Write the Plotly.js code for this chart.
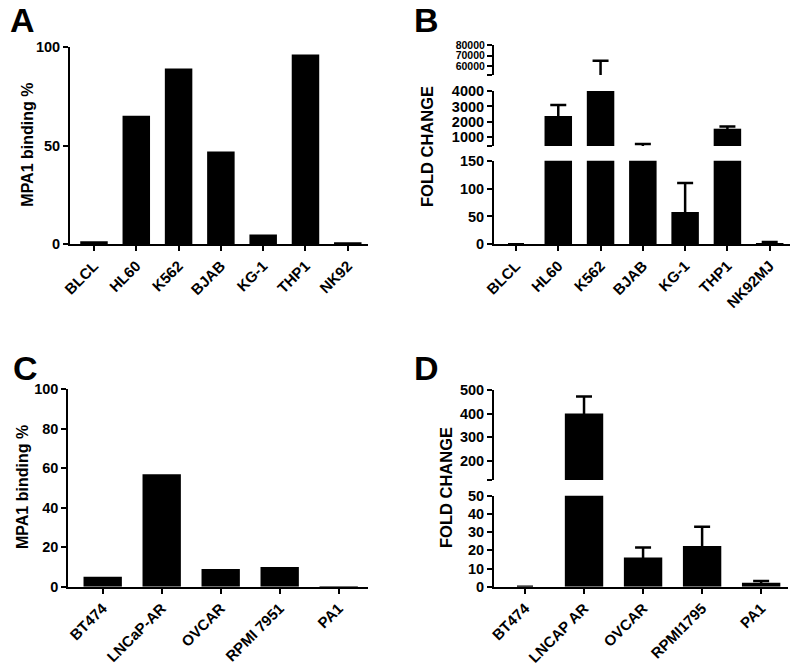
<!DOCTYPE html>
<html>
<head>
<meta charset="utf-8">
<script src="https://cdn.plot.ly/plotly-3.0.1.min.js"></script>
<style>html,body{margin:0;padding:0;background:#fff}#chart{width:800px;height:666px}</style>
</head>
<body>
<div id="chart"></div>
<script>
// ---- Data ----
const catsA = ['BLCL', 'HL60', 'K562', 'BJAB', 'KG-1', 'THP1', 'NK92'];
const bindingA = [1.5, 65, 89, 47, 5, 96, 1];

const catsB = ['BLCL', 'HL60', 'K562', 'BJAB', 'KG-1', 'THP1', 'NK92MJ'];
const foldB = [0, 2380, 35000, 400, 58, 1560, 2.5];
const foldBUpper = [0, 3100, 65000, 570, 110, 1710, 4];

const catsC = ['BT474', 'LNCaP-AR', 'OVCAR', 'RPMI 7951', 'PA1'];
const bindingC = [5, 57, 9, 10, 0.3];

const catsD = ['BT474', 'LNCAP AR', 'OVCAR', 'RPMI1795', 'PA1'];
const foldD = [0, 400, 16, 22.3, 2.2];
const foldDUpper = [0, 472, 21.6, 33, 3.2];

const ticksA = [0, 50, 100];
const ticksB1 = [0, 50, 100, 150];
const ticksB2 = [1000, 2000, 3000, 4000];
const ticksB3 = [60000, 70000, 80000];
const ticksC = [0, 20, 40, 60, 80, 100];
const ticksD1 = [0, 10, 20, 30, 40, 50];
const ticksD2 = [200, 300, 400, 500];

// ---- helpers ----
const W = 800, H = 666;
const px = v => v / W;
const py = v => 1 - v / H;
const FONT = 'Arial, "Liberation Sans", Helvetica, sans-serif';
const BAR_W = 0.65;

function diff(up, m) { return up.map((u, i) => (u - m[i] > 0 ? u - m[i] : null)); }

function barTrace(x, y, xa, ya, upper) {
  const t = { type: 'bar', x: x, y: y, xaxis: xa, yaxis: ya, width: BAR_W,
    marker: { color: '#000', line: { width: 0 } }, hoverinfo: 'skip', showlegend: false };
  if (upper) {
    // symmetric SD: the lower half falls inside the black bar and is hidden
    t.error_y = { type: 'data', symmetric: true, array: diff(upper, y),
      color: '#000', thickness: 2.5, width: 8, visible: true };
  }
  return t;
}

const data = [
  barTrace(catsA, bindingA, 'x', 'y'),
  barTrace(catsB, foldB, 'x2', 'y2', foldBUpper),
  barTrace(catsB, foldB, 'x2', 'y3', foldBUpper),
  barTrace(catsB, foldB, 'x2', 'y4', foldBUpper),
  barTrace(catsC, bindingC, 'x3', 'y5'),
  barTrace(catsD, foldD, 'x4', 'y6', foldDUpper),
  barTrace(catsD, foldD, 'x4', 'y7', foldDUpper)
];

function tf(size) { return { family: FONT, size: size, color: '#000', weight: 'bold' }; }
function xAx(d0, d1, anchor, range) {
  return { domain: [px(d0), px(d1)], anchor: anchor, type: 'category', range: range,
    showline: true, linewidth: 2, linecolor: '#000', ticks: 'outside', ticklen: 5, tickwidth: 2,
    tickcolor: '#000', showgrid: false, zeroline: false, tickangle: -45, tickfont: tf(15),
    fixedrange: true };
}
function yAx(top, bottom, anchor, range, vals, blankBottom, fsize) {
  const tv = blankBottom ? [range[0]].concat(vals) : vals;
  const tt = tv.map((v, i) => (blankBottom && i === 0) ? '' : String(v));
  return { domain: [py(bottom), py(top)], anchor: anchor, range: range,
    tickmode: 'array', tickvals: tv, ticktext: tt,
    showline: true, linewidth: 2, linecolor: '#000', ticks: 'outside', ticklen: 5, tickwidth: 2,
    tickcolor: '#000', showgrid: false, zeroline: false, tickfont: tf(fsize || 14.5), fixedrange: true };
}

function ann(text, x, y, size, angle) {
  return { text: text, x: px(x), y: py(y), xref: 'paper', yref: 'paper', showarrow: false,
    xanchor: 'center', yanchor: 'middle', textangle: angle || 0,
    font: { family: FONT, size: size, color: '#000', weight: 'bold' } };
}

const layout = {
  width: W, height: H, margin: { l: 0, r: 0, t: 0, b: 0 },
  paper_bgcolor: '#fff', plot_bgcolor: 'rgba(0,0,0,0)', showlegend: false, hovermode: false,
  xaxis: xAx(70, 368, 'y', [-0.567, 6.478]),
  yaxis: yAx(46.7, 244.3, 'x', [0, 100], ticksA),
  xaxis2: xAx(494, 790, 'y2', [-0.52, 6.48]),
  yaxis2: yAx(160.7, 244.3, 'x2', [0, 150], ticksB1),
  yaxis3: yAx(91, 146, 'x2', [440, 4000], ticksB2, true),
  yaxis4: yAx(45, 75, 'x2', [51500, 80000], ticksB3, true, 10.5),
  xaxis3: xAx(68.3, 368.3, 'y5', [-0.583, 4.502]),
  yaxis5: yAx(389.3, 586.7, 'x3', [0, 100], ticksC),
  xaxis4: xAx(494, 788.3, 'y6', [-0.525, 4.46]),
  yaxis6: yAx(495.7, 586.7, 'x4', [0, 50], ticksD1),
  yaxis7: yAx(390, 480, 'x4', [118, 500], ticksD2, true),
  annotations: [
    ann('A', 22.5, 19.5, 34),
    ann('B', 426.7, 19.5, 34),
    ann('C', 25.8, 368.3, 34),
    ann('D', 426.7, 368.3, 34),
    ann('MPA1 binding %', 26.7, 145, 16, -90),
    ann('FOLD CHANGE', 427, 146, 16.5, -90),
    ann('MPA1 binding %', 22.5, 487.5, 16, -90),
    ann('FOLD CHANGE', 446, 488, 16.5, -90)
  ]
};

Plotly.newPlot('chart', data, layout, { staticPlot: true, displayModeBar: false });
</script>
</body>
</html>
